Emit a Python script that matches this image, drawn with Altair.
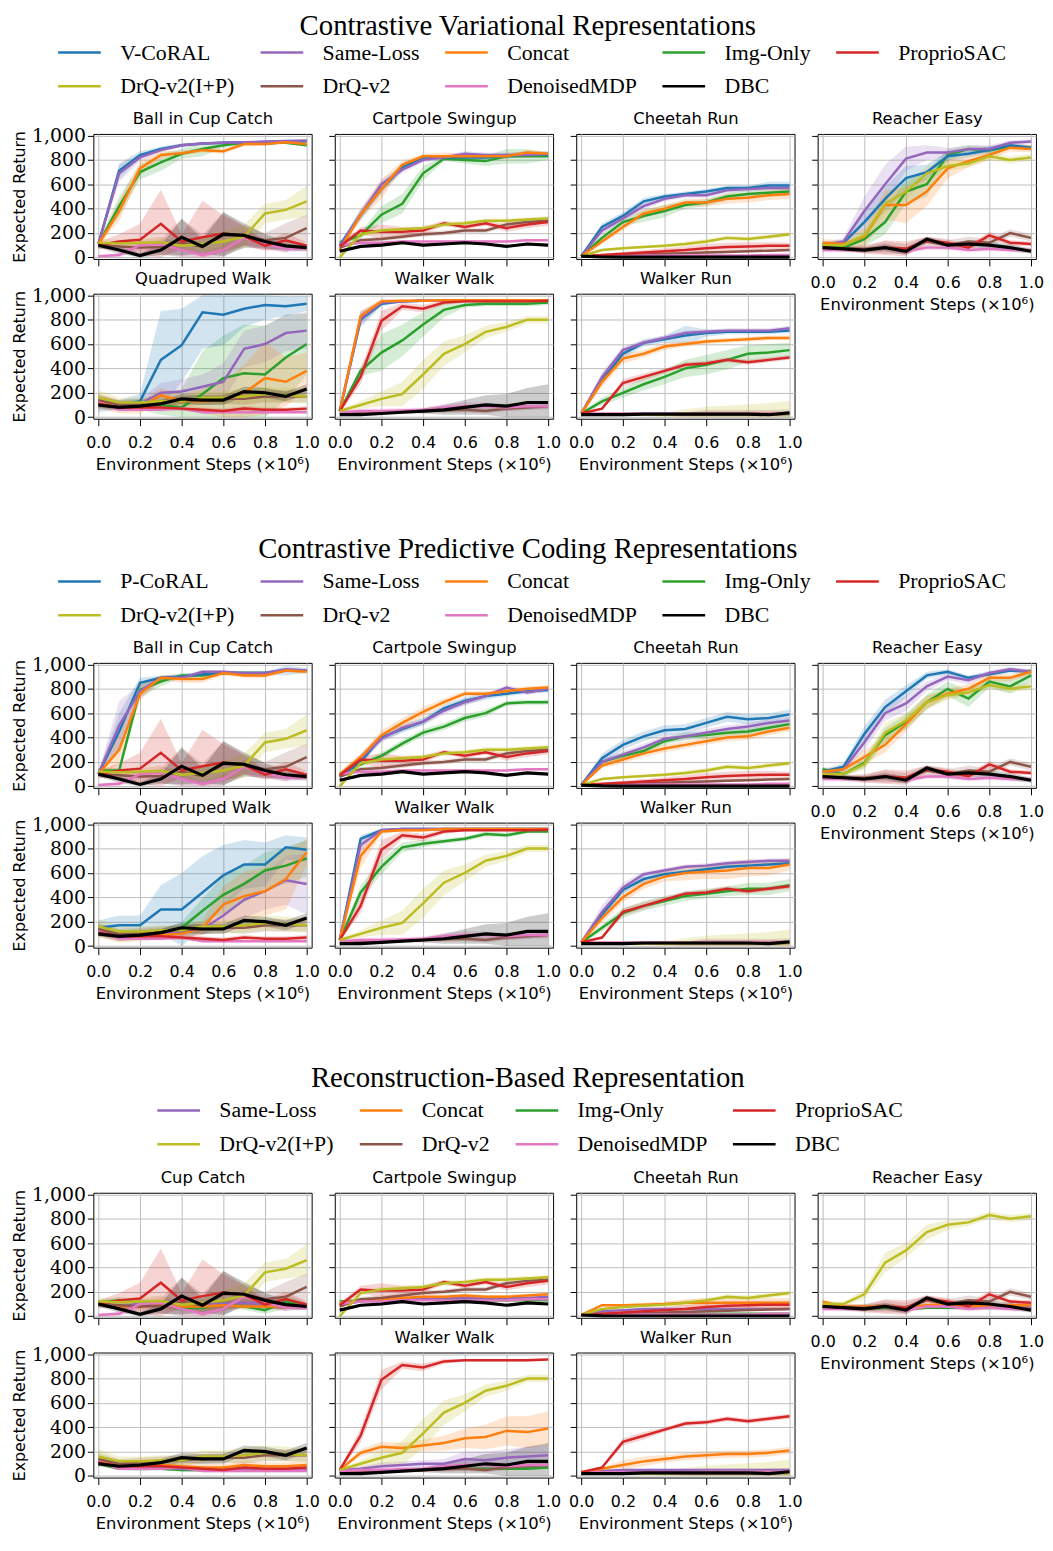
import altair as alt
import pandas as pd

STEPS = [0.0, 0.1, 0.2, 0.3, 0.4, 0.5, 0.6, 0.7, 0.8, 0.9, 1.0]
X_TICKS = [0.0, 0.2, 0.4, 0.6, 0.8, 1.0]
Y_TICKS = [0, 200, 400, 600, 800, 1000]

SECTION_TITLES = ["Contrastive Variational Representations",
                  "Contrastive Predictive Coding Representations",
                  "Reconstruction-Based Representation"]
ENV_KEYS = ["ball", "cartpole", "cheetah", "reacher", "quadruped", "walker_walk", "walker_run"]
ENV_NAMES_A = ["Ball in Cup Catch", "Cartpole Swingup", "Cheetah Run", "Reacher Easy",
               "Quadruped Walk", "Walker Walk", "Walker Run"]
ENV_NAMES_C = ["Cup Catch", "Cartpole Swingup", "Cheetah Run", "Reacher Easy",
               "Quadruped Walk", "Walker Walk", "Walker Run"]
BASELINES = ["ProprioSAC", "DrQ-v2(I+P)", "DrQ-v2", "DenoisedMDP", "DBC"]
LEGEND_V = ["V-CoRAL", "Same-Loss", "Concat", "Img-Only", "ProprioSAC",
            "DrQ-v2(I+P)", "DrQ-v2", "DenoisedMDP", "DBC"]
LEGEND_P = ["P-CoRAL", "Same-Loss", "Concat", "Img-Only", "ProprioSAC",
            "DrQ-v2(I+P)", "DrQ-v2", "DenoisedMDP", "DBC"]
LEGEND_R = ["Same-Loss", "Concat", "Img-Only", "ProprioSAC",
            "DrQ-v2(I+P)", "DrQ-v2", "DenoisedMDP", "DBC"]
DRAW_ORDER = ["Img-Only", "V-CoRAL", "P-CoRAL", "Same-Loss", "Concat", "DrQ-v2",
              "DenoisedMDP", "ProprioSAC", "DrQ-v2(I+P)", "DBC"]
COLOR_OF = {"V-CoRAL": "#1f77b4", "P-CoRAL": "#1f77b4", "Same-Loss": "#9467bd",
            "Concat": "#ff7f0e", "Img-Only": "#2ca02c", "ProprioSAC": "#d62728",
            "DrQ-v2(I+P)": "#bcbd22", "DrQ-v2": "#8c564b", "DenoisedMDP": "#e377c2",
            "DBC": "#000000"}

# ---------------- baselines (identical in all three sections) ----------------
BALL_BASE_MEAN = {
    "ProprioSAC": [100, 130, 145, 275, 130, 165, 195, 175, 95, 140, 95],
    "DrQ-v2(I+P)": [120, 115, 120, 125, 95, 110, 130, 170, 360, 390, 460],
    "DrQ-v2": [100, 90, 80, 85, 120, 85, 180, 180, 140, 160, 240],
    "DenoisedMDP": [10, 20, 100, 110, 60, 20, 60, 160, 110, 70, 70],
    "DBC": [100, 60, 15, 60, 165, 90, 190, 180, 130, 95, 80]}
BALL_BASE_SPREAD = {
    "ProprioSAC": [30, 60, 130, 280, 60, 300, 150, 80, 40, 60, 30],
    "DrQ-v2(I+P)": [30, 30, 40, 40, 40, 60, 80, 100, 80, 80, 130],
    "DrQ-v2": [30, 30, 40, 60, 200, 100, 190, 80, 60, 120, 110],
    "DenoisedMDP": [10, 20, 40, 60, 50, 20, 40, 60, 50, 30, 20],
    "DBC": [20, 30, 20, 40, 150, 60, 180, 100, 60, 40, 30]}

CARTPOLE_BASE_MEAN = {
    "ProprioSAC": [90, 220, 210, 210, 220, 280, 250, 280, 240, 270, 290],
    "DrQ-v2(I+P)": [0, 190, 220, 230, 240, 270, 280, 300, 300, 310, 320],
    "DrQ-v2": [80, 140, 150, 170, 190, 200, 220, 220, 270, 290, 300],
    "DenoisedMDP": [100, 120, 120, 130, 130, 130, 130, 130, 130, 140, 140],
    "DBC": [50, 90, 100, 120, 100, 110, 120, 110, 90, 110, 100]}
CARTPOLE_BASE_SPREAD = {
    "ProprioSAC": [20, 30, 60, 40, 30, 20, 20, 20, 30, 30, 30],
    "DrQ-v2(I+P)": [10, 20, 20, 20, 20, 20, 20, 20, 20, 20, 20],
    "DrQ-v2": [10, 20, 20, 20, 20, 20, 20, 20, 20, 20, 20],
    "DenoisedMDP": [10, 10, 10, 10, 10, 10, 10, 10, 10, 10, 10],
    "DBC": [10, 10, 10, 10, 10, 10, 10, 10, 10, 10, 10]}

CHEETAH_BASE_MEAN = {
    "ProprioSAC": [10, 20, 30, 40, 50, 60, 75, 85, 90, 95, 95],
    "DrQ-v2(I+P)": [10, 60, 75, 85, 95, 110, 130, 160, 150, 170, 190],
    "DrQ-v2": [10, 15, 20, 25, 30, 35, 40, 45, 50, 55, 60],
    "DenoisedMDP": [10, 10, 10, 15, 15, 15, 15, 15, 15, 20, 20],
    "DBC": [10, 3, 2, 2, 2, 2, 2, 2, 2, 2, 2]}
CHEETAH_BASE_SPREAD = {
    "ProprioSAC": [5, 10, 15, 20, 25, 30, 35, 35, 35, 30, 25],
    "DrQ-v2(I+P)": [5, 10, 10, 10, 15, 20, 20, 20, 20, 20, 20],
    "DrQ-v2": [5, 5, 5, 10, 10, 10, 10, 10, 10, 10, 10],
    "DenoisedMDP": [3, 3, 3, 3, 3, 3, 3, 3, 3, 3, 3],
    "DBC": [2, 2, 2, 2, 2, 2, 2, 2, 2, 2, 2]}

REACHER_BASE_MEAN = {
    "ProprioSAC": [80, 70, 60, 80, 70, 140, 120, 80, 180, 120, 110],
    "DrQ-v2(I+P)": [100, 100, 180, 440, 540, 690, 750, 770, 830, 800, 820],
    "DrQ-v2": [80, 70, 70, 80, 70, 130, 100, 130, 120, 200, 160],
    "DenoisedMDP": [60, 60, 60, 80, 50, 80, 80, 60, 70, 60, 60],
    "DBC": [80, 70, 60, 80, 50, 150, 100, 110, 100, 80, 50]}
REACHER_BASE_SPREAD = {
    "ProprioSAC": [20, 20, 30, 60, 60, 30, 30, 20, 30, 20, 20],
    "DrQ-v2(I+P)": [20, 20, 40, 80, 60, 60, 40, 30, 30, 30, 30],
    "DrQ-v2": [20, 20, 30, 50, 40, 40, 40, 40, 30, 30, 30],
    "DenoisedMDP": [20, 20, 20, 20, 20, 20, 20, 20, 20, 20, 20],
    "DBC": [20, 20, 20, 30, 30, 20, 20, 30, 30, 30, 20]}

QUADRUPED_BASE_MEAN = {
    "ProprioSAC": [110, 80, 80, 80, 70, 60, 50, 70, 60, 60, 70],
    "DrQ-v2(I+P)": [160, 120, 120, 130, 130, 160, 160, 170, 190, 180, 170],
    "DrQ-v2": [140, 100, 110, 120, 130, 140, 150, 150, 170, 170, 170],
    "DenoisedMDP": [120, 60, 60, 60, 70, 40, 40, 40, 40, 40, 40],
    "DBC": [100, 80, 90, 110, 150, 140, 140, 210, 200, 170, 230]}
QUADRUPED_BASE_SPREAD = {
    "ProprioSAC": [20, 20, 20, 20, 20, 20, 20, 20, 20, 20, 20],
    "DrQ-v2(I+P)": [60, 40, 40, 40, 40, 50, 50, 60, 60, 60, 60],
    "DrQ-v2": [50, 40, 40, 40, 40, 40, 40, 50, 50, 50, 50],
    "DenoisedMDP": [20, 10, 10, 10, 10, 10, 10, 10, 10, 10, 10],
    "DBC": [20, 20, 20, 30, 40, 40, 40, 40, 40, 40, 40]}

WALKER_WALK_BASE_MEAN = {
    "ProprioSAC": [50, 330, 790, 910, 890, 940, 950, 950, 950, 950, 955],
    "DrQ-v2(I+P)": [50, 100, 150, 190, 350, 520, 600, 700, 740, 800, 800],
    "DrQ-v2": [30, 35, 40, 45, 50, 55, 60, 50, 70, 80, 90],
    "DenoisedMDP": [40, 50, 50, 55, 60, 80, 90, 90, 80, 90, 90],
    "DBC": [20, 20, 30, 40, 50, 60, 80, 100, 90, 120, 120]}
WALKER_WALK_BASE_SPREAD = {
    "ProprioSAC": [10, 60, 80, 30, 30, 20, 10, 10, 10, 10, 10],
    "DrQ-v2(I+P)": [10, 30, 60, 100, 120, 100, 70, 50, 40, 30, 30],
    "DrQ-v2": [10, 10, 10, 15, 15, 20, 20, 20, 20, 20, 20],
    "DenoisedMDP": [10, 20, 20, 20, 20, 30, 30, 30, 30, 30, 30],
    "DBC": [5, 10, 10, 10, 20, 40, 60, 80, 100, 120, 150]}

WALKER_RUN_BASE_MEAN = {
    "ProprioSAC": [30, 70, 280, 330, 380, 430, 440, 470, 450, 470, 490],
    "DrQ-v2(I+P)": [20, 20, 20, 20, 20, 25, 25, 25, 25, 25, 25],
    "DrQ-v2": [20, 20, 20, 20, 20, 20, 20, 20, 20, 20, 25],
    "DenoisedMDP": [30, 30, 30, 30, 30, 30, 35, 35, 35, 35, 35],
    "DBC": [20, 20, 20, 25, 25, 25, 25, 25, 25, 20, 35]}
WALKER_RUN_BASE_SPREAD = {
    "ProprioSAC": [5, 10, 30, 30, 20, 20, 20, 20, 20, 20, 20],
    "DrQ-v2(I+P)": [5, 5, 5, 10, 20, 40, 60, 70, 80, 90, 110],
    "DrQ-v2": [5, 5, 5, 10, 10, 20, 40, 40, 40, 40, 40],
    "DenoisedMDP": [5, 5, 5, 5, 5, 5, 5, 5, 5, 5, 5],
    "DBC": [5, 5, 5, 5, 5, 5, 5, 5, 5, 5, 5]}

# ---------------- section 1: contrastive variational ----------------
V_BALL_MEAN = {
    "V-CoRAL": [110, 710, 840, 890, 920, 935, 940, 945, 930, 950, 950],
    "Same-Loss": [110, 690, 820, 880, 920, 935, 940, 945, 950, 955, 960],
    "Concat": [110, 380, 730, 840, 855, 880, 870, 930, 930, 945, 930],
    "Img-Only": [110, 420, 700, 780, 850, 890, 920, 940, 940, 940, 920]}
V_BALL_SPREAD = {
    "V-CoRAL": [20, 60, 30, 20, 15, 10, 10, 10, 10, 10, 10],
    "Same-Loss": [20, 70, 30, 20, 15, 10, 10, 10, 10, 10, 10],
    "Concat": [20, 80, 60, 30, 20, 20, 20, 20, 15, 10, 10],
    "Img-Only": [20, 80, 60, 70, 40, 60, 20, 15, 15, 10, 10]}
V_CARTPOLE_MEAN = {
    "V-CoRAL": [100, 350, 560, 740, 820, 820, 820, 820, 830, 850, 840],
    "Same-Loss": [90, 350, 600, 720, 800, 820, 850, 840, 840, 840, 850],
    "Concat": [60, 350, 560, 760, 830, 830, 830, 830, 830, 860, 850],
    "Img-Only": [120, 180, 350, 440, 690, 810, 800, 790, 830, 830, 830]}
V_CARTPOLE_SPREAD = {
    "V-CoRAL": [20, 40, 40, 30, 20, 20, 20, 20, 20, 20, 20],
    "Same-Loss": [20, 50, 40, 30, 20, 20, 20, 20, 20, 20, 20],
    "Concat": [20, 40, 80, 30, 20, 30, 20, 20, 20, 20, 20],
    "Img-Only": [20, 30, 70, 80, 60, 20, 30, 40, 60, 60, 30]}
V_CHEETAH_MEAN = {
    "V-CoRAL": [10, 250, 340, 460, 500, 520, 540, 570, 570, 590, 590],
    "Same-Loss": [10, 220, 320, 420, 480, 510, 510, 550, 560, 570, 570],
    "Concat": [10, 130, 250, 360, 400, 450, 450, 480, 490, 510, 520],
    "Img-Only": [10, 160, 290, 340, 380, 430, 450, 500, 520, 530, 540]}
V_CHEETAH_SPREAD = {
    "V-CoRAL": [10, 30, 30, 30, 20, 20, 20, 20, 20, 30, 30],
    "Same-Loss": [10, 30, 30, 30, 20, 20, 20, 20, 20, 20, 20],
    "Concat": [10, 20, 30, 30, 30, 30, 30, 40, 40, 40, 40],
    "Img-Only": [10, 30, 30, 50, 50, 30, 30, 30, 30, 30, 30]}
V_REACHER_MEAN = {
    "V-CoRAL": [110, 120, 290, 480, 650, 700, 830, 850, 880, 920, 900],
    "Same-Loss": [100, 130, 380, 600, 810, 860, 860, 890, 890, 940, 950],
    "Concat": [120, 110, 170, 430, 430, 540, 730, 790, 840, 900, 890],
    "Img-Only": [100, 80, 150, 290, 540, 600, 840, 890, 880, 910, 900]}
V_REACHER_SPREAD = {
    "V-CoRAL": [20, 20, 80, 100, 100, 60, 40, 30, 30, 20, 20],
    "Same-Loss": [20, 30, 120, 160, 100, 60, 40, 30, 30, 20, 20],
    "Concat": [30, 30, 80, 120, 150, 120, 80, 50, 40, 30, 30],
    "Img-Only": [20, 20, 60, 100, 100, 100, 50, 30, 30, 20, 20]}
V_QUADRUPED_MEAN = {
    "V-CoRAL": [100, 100, 130, 470, 590, 860, 840, 890, 920, 910, 930],
    "Same-Loss": [120, 100, 110, 200, 210, 250, 290, 560, 600, 690, 710],
    "Concat": [130, 80, 80, 180, 130, 130, 140, 200, 320, 290, 380],
    "Img-Only": [120, 90, 100, 100, 80, 190, 320, 360, 350, 490, 600]}
V_QUADRUPED_SPREAD = {
    "V-CoRAL": [60, 40, 60, 400, 300, 300, 250, 150, 120, 80, 60],
    "Same-Loss": [60, 40, 40, 80, 100, 100, 150, 150, 150, 150, 150],
    "Concat": [60, 50, 50, 60, 60, 100, 150, 230, 300, 200, 150],
    "Img-Only": [50, 40, 40, 80, 150, 350, 350, 400, 400, 350, 250]}
V_WALKER_WALK_MEAN = {
    "V-CoRAL": [50, 800, 930, 950, 955, 955, 955, 955, 955, 960, 960],
    "Same-Loss": [50, 810, 940, 950, 955, 955, 960, 960, 960, 960, 960],
    "Concat": [50, 830, 950, 955, 955, 960, 960, 960, 960, 960, 960],
    "Img-Only": [50, 380, 530, 630, 760, 880, 920, 930, 930, 930, 940]}
V_WALKER_WALK_SPREAD = {
    "V-CoRAL": [10, 60, 20, 10, 10, 10, 10, 10, 10, 10, 10],
    "Same-Loss": [10, 60, 20, 10, 10, 10, 10, 10, 10, 10, 10],
    "Concat": [10, 40, 20, 10, 10, 10, 10, 10, 10, 10, 10],
    "Img-Only": [10, 40, 150, 130, 100, 60, 20, 20, 20, 20, 20]}
V_WALKER_RUN_MEAN = {
    "V-CoRAL": [30, 300, 520, 610, 640, 670, 690, 700, 700, 700, 710],
    "Same-Loss": [30, 330, 550, 610, 650, 690, 700, 710, 710, 710, 730],
    "Concat": [30, 290, 480, 520, 580, 600, 620, 630, 640, 650, 650],
    "Img-Only": [30, 130, 200, 270, 330, 400, 430, 470, 520, 530, 550]}
V_WALKER_RUN_SPREAD = {
    "V-CoRAL": [10, 30, 40, 30, 30, 80, 30, 20, 20, 20, 20],
    "Same-Loss": [10, 40, 30, 20, 20, 20, 20, 20, 20, 20, 20],
    "Concat": [10, 40, 40, 30, 30, 20, 20, 20, 20, 20, 20],
    "Img-Only": [10, 30, 40, 50, 60, 70, 80, 80, 70, 70, 60]}

# ---------------- section 2: contrastive predictive coding ----------------
P_BALL_MEAN = {
    "P-CoRAL": [100, 450, 850, 890, 900, 920, 930, 930, 930, 950, 950],
    "Same-Loss": [100, 500, 780, 890, 890, 940, 940, 930, 930, 960, 950],
    "Concat": [100, 300, 760, 890, 880, 880, 930, 910, 910, 950, 940],
    "Img-Only": [130, 130, 790, 860, 910, 910, 930, 930, 930, 950, 950]}
P_BALL_SPREAD = {
    "P-CoRAL": [20, 150, 40, 20, 20, 15, 10, 10, 10, 40, 20],
    "Same-Loss": [20, 200, 60, 20, 20, 15, 10, 10, 10, 10, 10],
    "Concat": [20, 120, 60, 20, 30, 30, 20, 20, 20, 15, 15],
    "Img-Only": [20, 20, 60, 40, 20, 20, 15, 15, 15, 10, 10]}
P_CARTPOLE_MEAN = {
    "P-CoRAL": [80, 200, 400, 470, 530, 640, 700, 740, 760, 780, 790],
    "Same-Loss": [80, 230, 390, 480, 530, 620, 690, 740, 810, 770, 800],
    "Concat": [100, 240, 420, 520, 610, 690, 760, 760, 780, 800, 810],
    "Img-Only": [100, 180, 250, 350, 440, 490, 560, 600, 680, 690, 690]}
P_CARTPOLE_SPREAD = {
    "P-CoRAL": [20, 30, 30, 30, 30, 30, 30, 30, 20, 20, 20],
    "Same-Loss": [20, 30, 30, 30, 30, 30, 30, 20, 20, 20, 20],
    "Concat": [20, 30, 40, 40, 40, 30, 20, 20, 20, 20, 20],
    "Img-Only": [20, 20, 30, 30, 30, 30, 30, 30, 20, 20, 20]}
P_CHEETAH_MEAN = {
    "P-CoRAL": [10, 230, 340, 410, 460, 470, 520, 570, 550, 560, 590],
    "Same-Loss": [10, 200, 260, 320, 390, 410, 440, 470, 490, 520, 540],
    "Concat": [10, 170, 220, 270, 310, 340, 370, 400, 410, 450, 480],
    "Img-Only": [10, 200, 250, 290, 370, 410, 420, 440, 450, 480, 510]}
P_CHEETAH_SPREAD = {
    "P-CoRAL": [10, 40, 40, 40, 40, 40, 40, 40, 40, 40, 40],
    "Same-Loss": [10, 30, 30, 30, 30, 30, 30, 30, 30, 30, 30],
    "Concat": [10, 20, 30, 30, 30, 30, 30, 30, 30, 30, 30],
    "Img-Only": [10, 20, 30, 30, 30, 30, 30, 30, 30, 30, 30]}
P_REACHER_MEAN = {
    "P-CoRAL": [120, 160, 430, 650, 780, 910, 940, 890, 920, 950, 940],
    "Same-Loss": [100, 140, 360, 600, 680, 820, 900, 870, 930, 960, 940],
    "Concat": [120, 140, 240, 340, 510, 690, 760, 800, 890, 890, 940],
    "Img-Only": [140, 100, 190, 420, 530, 690, 800, 720, 860, 820, 910]}
P_REACHER_SPREAD = {
    "P-CoRAL": [20, 30, 60, 60, 50, 30, 20, 20, 20, 20, 20],
    "Same-Loss": [20, 30, 60, 60, 60, 40, 30, 30, 20, 20, 20],
    "Concat": [20, 30, 60, 60, 60, 50, 40, 40, 30, 30, 20],
    "Img-Only": [20, 20, 40, 60, 60, 60, 60, 70, 50, 60, 60]}
P_QUADRUPED_MEAN = {
    "P-CoRAL": [150, 170, 170, 300, 300, 440, 580, 670, 670, 810, 790],
    "Same-Loss": [130, 80, 100, 110, 120, 140, 250, 380, 450, 540, 510],
    "Concat": [120, 70, 80, 90, 100, 150, 340, 410, 450, 550, 770],
    "Img-Only": [130, 80, 90, 100, 150, 290, 420, 510, 620, 660, 720]}
P_QUADRUPED_SPREAD = {
    "P-CoRAL": [60, 80, 80, 200, 300, 300, 250, 200, 180, 100, 100],
    "Same-Loss": [50, 40, 40, 40, 40, 50, 100, 150, 150, 200, 250],
    "Concat": [50, 40, 40, 40, 40, 60, 150, 200, 200, 250, 100],
    "Img-Only": [50, 40, 40, 40, 50, 100, 150, 150, 150, 150, 150]}
P_WALKER_WALK_MEAN = {
    "P-CoRAL": [50, 880, 950, 960, 960, 960, 960, 960, 960, 960, 960],
    "Same-Loss": [50, 830, 950, 960, 960, 960, 960, 960, 960, 960, 960],
    "Concat": [50, 740, 940, 950, 950, 960, 960, 960, 960, 960, 960],
    "Img-Only": [50, 440, 650, 810, 840, 860, 880, 920, 910, 940, 940]}
P_WALKER_WALK_SPREAD = {
    "P-CoRAL": [10, 30, 15, 10, 10, 10, 10, 10, 10, 10, 10],
    "Same-Loss": [10, 60, 15, 10, 10, 10, 10, 10, 10, 10, 10],
    "Concat": [10, 100, 20, 10, 10, 10, 10, 10, 10, 10, 10],
    "Img-Only": [10, 60, 60, 40, 30, 20, 20, 20, 20, 15, 15]}
P_WALKER_RUN_MEAN = {
    "P-CoRAL": [30, 260, 460, 550, 590, 610, 630, 650, 660, 670, 680],
    "Same-Loss": [30, 280, 480, 590, 620, 650, 660, 680, 690, 700, 700],
    "Concat": [30, 230, 400, 510, 570, 600, 610, 620, 640, 640, 670],
    "Img-Only": [30, 150, 270, 330, 370, 410, 430, 450, 470, 470, 500]}
P_WALKER_RUN_SPREAD = {
    "P-CoRAL": [10, 40, 30, 30, 20, 20, 20, 20, 20, 20, 20],
    "Same-Loss": [10, 60, 40, 20, 20, 20, 20, 20, 20, 20, 20],
    "Concat": [10, 40, 40, 40, 40, 60, 60, 70, 70, 60, 50],
    "Img-Only": [10, 30, 40, 40, 40, 40, 40, 40, 50, 50, 50]}

# ---------------- section 3: reconstruction based ----------------
R_BALL_MEAN = {
    "Same-Loss": [100, 80, 100, 100, 110, 100, 100, 110, 100, 90, 90],
    "Concat": [100, 80, 80, 90, 80, 80, 90, 80, 80, 80, 80],
    "Img-Only": [110, 130, 110, 100, 70, 70, 100, 80, 50, 120, 80]}
R_BALL_SPREAD = {
    "Same-Loss": [20, 20, 30, 30, 30, 30, 30, 30, 30, 30, 30],
    "Concat": [20, 20, 20, 20, 20, 20, 20, 20, 20, 20, 20],
    "Img-Only": [20, 30, 30, 30, 30, 30, 30, 30, 30, 60, 30]}
R_CARTPOLE_MEAN = {
    "Same-Loss": [100, 120, 140, 140, 140, 150, 150, 150, 150, 150, 160],
    "Concat": [110, 130, 140, 150, 160, 160, 170, 160, 160, 170, 180],
    "Img-Only": [120, 130, 130, 130, 140, 140, 130, 130, 130, 130, 130]}
R_CARTPOLE_SPREAD = {
    "Same-Loss": [10, 10, 10, 10, 10, 10, 10, 10, 10, 10, 10],
    "Concat": [15, 15, 15, 15, 15, 15, 15, 15, 15, 15, 15],
    "Img-Only": [10, 10, 10, 10, 10, 10, 10, 10, 10, 10, 10]}
R_CHEETAH_MEAN = {
    "Same-Loss": [10, 40, 50, 60, 60, 60, 60, 60, 60, 60, 60],
    "Concat": [10, 90, 90, 95, 100, 110, 110, 110, 110, 110, 110],
    "Img-Only": [10, 20, 20, 20, 20, 20, 20, 20, 20, 20, 20]}
R_CHEETAH_SPREAD = {
    "Same-Loss": [10, 10, 10, 10, 10, 10, 10, 10, 10, 10, 10],
    "Concat": [5, 10, 10, 15, 20, 30, 40, 40, 40, 40, 40],
    "Img-Only": [5, 5, 5, 5, 5, 5, 5, 5, 5, 5, 5]}
R_REACHER_MEAN = {
    "Same-Loss": [80, 80, 70, 80, 60, 80, 80, 70, 90, 80, 80],
    "Concat": [120, 80, 80, 80, 70, 90, 100, 80, 90, 90, 90],
    "Img-Only": [80, 70, 60, 70, 60, 70, 70, 70, 70, 70, 70]}
R_REACHER_SPREAD = {
    "Same-Loss": [20, 20, 20, 20, 20, 20, 20, 20, 20, 20, 20],
    "Concat": [20, 20, 20, 20, 20, 20, 20, 20, 20, 20, 20],
    "Img-Only": [15, 15, 15, 15, 15, 15, 15, 15, 15, 15, 15]}
R_QUADRUPED_MEAN = {
    "Same-Loss": [110, 70, 60, 70, 60, 50, 50, 50, 50, 50, 50],
    "Concat": [120, 80, 80, 90, 80, 70, 70, 90, 80, 80, 90],
    "Img-Only": [100, 60, 60, 60, 50, 50, 50, 50, 50, 50, 50]}
R_QUADRUPED_SPREAD = {
    "Same-Loss": [20, 20, 20, 20, 20, 20, 20, 20, 20, 20, 20],
    "Concat": [30, 30, 30, 30, 30, 30, 30, 30, 30, 30, 30],
    "Img-Only": [15, 15, 15, 15, 15, 15, 15, 15, 15, 15, 15]}
R_WALKER_WALK_MEAN = {
    "Same-Loss": [50, 60, 80, 90, 100, 100, 140, 130, 150, 160, 170],
    "Concat": [50, 190, 240, 230, 250, 270, 310, 320, 370, 360, 390],
    "Img-Only": [50, 40, 40, 50, 50, 60, 60, 60, 60, 60, 70]}
R_WALKER_WALK_SPREAD = {
    "Same-Loss": [10, 20, 30, 30, 30, 40, 60, 70, 70, 80, 80],
    "Concat": [10, 30, 40, 40, 50, 60, 80, 100, 120, 130, 140],
    "Img-Only": [10, 10, 10, 10, 10, 10, 10, 10, 10, 10, 10]}
R_WALKER_RUN_MEAN = {
    "Same-Loss": [30, 40, 50, 50, 50, 50, 50, 50, 50, 50, 50],
    "Concat": [30, 60, 90, 120, 140, 160, 170, 180, 180, 190, 210],
    "Img-Only": [30, 30, 40, 40, 40, 40, 40, 40, 40, 40, 40]}
R_WALKER_RUN_SPREAD = {
    "Same-Loss": [10, 10, 10, 10, 10, 10, 10, 10, 10, 10, 10],
    "Concat": [5, 10, 40, 40, 30, 30, 30, 30, 30, 30, 30],
    "Img-Only": [10, 10, 10, 10, 10, 10, 10, 10, 10, 10, 10]}

BASE_MEAN = dict(zip(ENV_KEYS, [BALL_BASE_MEAN, CARTPOLE_BASE_MEAN, CHEETAH_BASE_MEAN,
                                REACHER_BASE_MEAN, QUADRUPED_BASE_MEAN,
                                WALKER_WALK_BASE_MEAN, WALKER_RUN_BASE_MEAN]))
BASE_SPREAD = dict(zip(ENV_KEYS, [BALL_BASE_SPREAD, CARTPOLE_BASE_SPREAD, CHEETAH_BASE_SPREAD,
                                  REACHER_BASE_SPREAD, QUADRUPED_BASE_SPREAD,
                                  WALKER_WALK_BASE_SPREAD, WALKER_RUN_BASE_SPREAD]))

SECTIONS = [
    dict(title=SECTION_TITLES[0], names=ENV_NAMES_A, legend=LEGEND_V, cols=5, lx=-37, ly=-105,
         toff=-12,
         mean=dict(zip(ENV_KEYS, [V_BALL_MEAN, V_CARTPOLE_MEAN, V_CHEETAH_MEAN, V_REACHER_MEAN,
                                  V_QUADRUPED_MEAN, V_WALKER_WALK_MEAN, V_WALKER_RUN_MEAN])),
         spread=dict(zip(ENV_KEYS, [V_BALL_SPREAD, V_CARTPOLE_SPREAD, V_CHEETAH_SPREAD,
                                    V_REACHER_SPREAD, V_QUADRUPED_SPREAD,
                                    V_WALKER_WALK_SPREAD, V_WALKER_RUN_SPREAD]))),
    dict(title=SECTION_TITLES[1], names=ENV_NAMES_A, legend=LEGEND_P, cols=5, lx=-37, ly=-105,
         toff=-6,
         mean=dict(zip(ENV_KEYS, [P_BALL_MEAN, P_CARTPOLE_MEAN, P_CHEETAH_MEAN, P_REACHER_MEAN,
                                  P_QUADRUPED_MEAN, P_WALKER_WALK_MEAN, P_WALKER_RUN_MEAN])),
         spread=dict(zip(ENV_KEYS, [P_BALL_SPREAD, P_CARTPOLE_SPREAD, P_CHEETAH_SPREAD,
                                    P_REACHER_SPREAD, P_QUADRUPED_SPREAD,
                                    P_WALKER_WALK_SPREAD, P_WALKER_RUN_SPREAD]))),
    dict(title=SECTION_TITLES[2], names=ENV_NAMES_C, legend=LEGEND_R, cols=4, lx=63, ly=-106,
         toff=-6,
         mean=dict(zip(ENV_KEYS, [R_BALL_MEAN, R_CARTPOLE_MEAN, R_CHEETAH_MEAN, R_REACHER_MEAN,
                                  R_QUADRUPED_MEAN, R_WALKER_WALK_MEAN, R_WALKER_RUN_MEAN])),
         spread=dict(zip(ENV_KEYS, [R_BALL_SPREAD, R_CARTPOLE_SPREAD, R_CHEETAH_SPREAD,
                                    R_REACHER_SPREAD, R_QUADRUPED_SPREAD,
                                    R_WALKER_WALK_SPREAD, R_WALKER_RUN_SPREAD]))),
]

W, H = 220, 126
X_DOMAIN = [-0.024, 1.024]
Y_DOMAIN = [-13, 1013]


def panel_frame(sec, key):
    series = {}
    for m, v in sec["mean"][key].items():
        series[m] = (v, sec["spread"][key][m])
    for b in BASELINES:
        series[b] = (BASE_MEAN[key][b], BASE_SPREAD[key][b])
    rows = []
    for m in DRAW_ORDER:
        if m not in series:
            continue
        mean, sp = series[m]
        for s, v, h in zip(STEPS, mean, sp):
            rows.append(dict(method=m, step=s, mean=v,
                             lo=max(0, v - h), hi=min(1000, v + h),
                             lw=3.2 if m == "DBC" else 2.5))
    return pd.DataFrame(rows)


def bottom_axis(show):
    kw = dict(orient="bottom", values=X_TICKS, format=".1f", labels=show, labelFlush=False,
              labelOverlap=False, tickSize=7, grid=True, domain=False)
    if show:
        kw.update(title="Environment Steps (×10⁶)", labelPadding=9,
                  labelFont="DejaVu Sans", labelFontSize=16,
                  titleFont="DejaVu Sans", titleFontSize=16.5,
                  titleFontWeight="normal", titlePadding=6)
    else:
        kw.update(title="")
    return alt.Axis(**kw)


def top_axis(name):
    return alt.Axis(orient="top", labels=False, ticks=False, grid=False, domain=False,
                    title=name, titleFont="DejaVu Sans", titleFontSize=16.5,
                    titleFontWeight="normal", titleColor="black", titleX=W / 2, titleY=-10.5,
                    titleAlign="center", titleBaseline="alphabetic")


def y_axis(show):
    kw = dict(values=Y_TICKS, format=",d", labels=show, tickSize=6, grid=True,
              labelOverlap=False, labelFlush=False, domain=False)
    if show:
        kw.update(title="Expected Return", labelFont="DejaVu Serif", labelFontSize=19,
                  labelPadding=2, titleFont="DejaVu Sans", titleFontSize=16,
                  titleFontWeight="normal", titleX=-74, titleY=H / 2, titleAngle=270,
                  titleAlign="center", titleBaseline="middle")
    else:
        kw.update(title="")
    return alt.Axis(**kw)


def make_section(sec):
    domain = sec["legend"]
    rng = [COLOR_OF[m] for m in domain]
    legend = alt.Legend(orient="none", legendX=sec["lx"], legendY=sec["ly"],
                        direction="horizontal", columns=sec["cols"], title=None,
                        symbolType="stroke", symbolSize=1849, symbolStrokeWidth=2.5,
                        symbolOpacity=1, labelFont="Liberation Serif", labelFontSize=22,
                        labelColor="black", labelOffset=18, columnPadding=20,
                        rowPadding=0, padding=0, labelLimit=300)
    panels = []
    for i, key in enumerate(ENV_KEYS):
        r, c = (0, i) if i < 4 else (1, i - 4)
        df = panel_frame(sec, key)
        show_x = (r == 1) or (c == 3)
        show_y = (c == 0)
        xs = alt.Scale(domain=X_DOMAIN, nice=False, zero=False)
        ys = alt.Scale(domain=Y_DOMAIN, nice=False, zero=False)
        cs = alt.Scale(domain=domain, range=rng)
        yax = y_axis(show_y)
        if i == 0:
            color_band = alt.Color("method:N", scale=cs, legend=legend)
            color_line = alt.Color("method:N", scale=cs, legend=legend)
        else:
            color_band = alt.Color("method:N", scale=cs, legend=None)
            color_line = alt.Color("method:N", scale=cs, legend=None)
        base = alt.Chart(df)
        band = base.mark_area(opacity=0.2, clip=True).encode(
            x=alt.X("step:Q", scale=xs, axis=bottom_axis(show_x)),
            y=alt.Y("lo:Q", stack=None, scale=ys, axis=yax),
            y2="hi:Q",
            color=color_band,
        )
        line = base.mark_line(clip=True).encode(
            x=alt.X("step:Q", scale=xs, axis=top_axis(sec["names"][i])),
            y=alt.Y("mean:Q", scale=ys, axis=yax),
            color=color_line,
            strokeWidth=alt.StrokeWidth("lw:Q", scale=None),
        )
        p = alt.layer(band, line).resolve_axis(x="independent").properties(width=W, height=H)
        panels.append(p)
    return alt.concat(*panels, columns=4, spacing={"row": 35, "column": 23.3},
                      bounds="flush",
                      title=alt.TitleParams(sec["title"], font="Liberation Serif", fontSize=29,
                                            fontWeight="normal", color="black",
                                            anchor="middle", offset=sec["toff"])
                      ).resolve_scale(color="independent")


chart = alt.vconcat(*[make_section(s) for s in SECTIONS], spacing=62).resolve_scale(
    color="independent"
).properties(
    padding={"left": 3, "top": -2, "right": 0, "bottom": 0}
).configure_view(
    stroke="black", strokeWidth=1
).configure_axis(
    gridColor="#bdbdbd", gridWidth=1, tickColor="black", tickWidth=1,
    labelColor="black", titleColor="black"
)

chart.save("out.html", embed_options={"renderer": "svg", "actions": False})
